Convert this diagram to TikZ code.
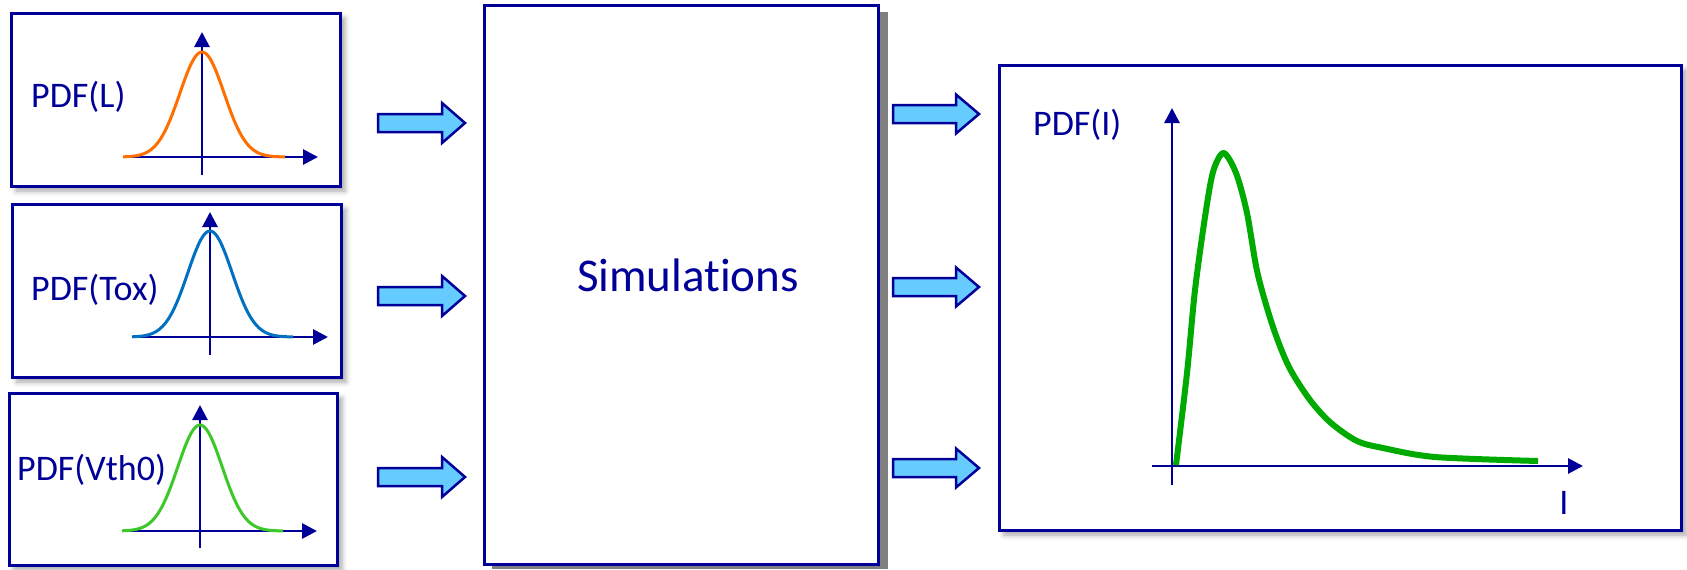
\documentclass[tikz,border=0pt]{standalone}
\usepackage{fontspec}
\setmainfont{Carlito}[RawFeature=-liga]
\usetikzlibrary{arrows.meta,shadows.blur}
\definecolor{dblue}{RGB}{0,0,153}
\definecolor{lblue}{RGB}{102,204,255}
\definecolor{corange}{RGB}{255,110,0}
\definecolor{cblue}{RGB}{0,112,192}
\definecolor{cgreen}{RGB}{60,200,40}
\definecolor{dgreen}{RGB}{0,170,0}
\definecolor{shgray}{RGB}{128,128,128}
\newcommand{\BArrow}[6]{% x0, xhead, xtip, y, body half, head half
  \draw[barrow] (#1,#4-#5) -- (#2,#4-#5) -- (#2,#4-#6) -- (#3,#4) -- (#2,#4+#6) -- (#2,#4+#5) -- (#1,#4+#5) -- cycle;}
\begin{document}
\begin{tikzpicture}[x=1pt,y=-1pt,
  box/.style={draw=dblue, line width=3pt, fill=white, rectangle, inner sep=0pt},
  softshadow/.style={blur shadow={shadow xshift=5pt, shadow yshift=-5pt, shadow blur radius=5pt, shadow opacity=35}},
  axis/.style={draw=dblue, line width=2.8pt, -{Triangle[width=15pt,length=15pt]}},
  tick/.style={draw=dblue, line width=2.8pt},
  lbl/.style={text=dblue, font=\fontsize{36}{40}\selectfont, inner sep=0pt},
  barrow/.style={draw=dblue, fill=lblue, line width=2.5pt, line join=miter},
  gauss/.style={line width=3pt}]
\useasboundingbox (0,0) rectangle (1687,570);
% input boxes
\node[box, softshadow, minimum width=329pt, minimum height=173pt] (b1) at (175.5,99.5) {};
\node[box, softshadow, minimum width=329pt, minimum height=173pt] (b2) at (176.5,290.5) {};
\node[box, softshadow, minimum width=328pt, minimum height=172pt] (b3) at (173,479) {};
% simulation box with solid shadow
\fill[shgray] (492,12) rectangle (888,569);
\node[box, minimum width=394pt, minimum height=559pt] (sim) at (681,284.5) {};
\node[text=dblue, font=\fontsize{47}{52}\selectfont, inner sep=0pt] (simtxt) at (688,275) {Simulations};
% output box
\node[box, softshadow, minimum width=682pt, minimum height=465pt] (out) at (1340,297.5) {};

% box 1 contents
\node[lbl, anchor=west] (l1) at (31,97) {PDF(L)};
\draw[tick] (202,175) -- (202,100);
\draw[axis] (202,100) -- (202,32);
\draw[axis] (123,157) -- (318,157);
\draw[gauss, corange] plot[domain=-79:83, samples=90] ({202+\x},{157-105*exp(-\x*\x/980)});
% box 2 contents
\node[lbl, anchor=west] (l2) at (31,290) {PDF(Tox)};
\draw[tick] (210,355) -- (210,300);
\draw[axis] (210,300) -- (210,212);
\draw[axis] (132,337) -- (328,337);
\draw[gauss, cblue] plot[domain=-78:83, samples=90] ({210+\x},{337-106*exp(-\x*\x/980)});
% box 3 contents
\node[lbl, anchor=west] (l3) at (17,470) {PDF(Vth0)};
\draw[tick] (200,548) -- (200,480);
\draw[axis] (200,480) -- (200,405);
\draw[axis] (122,531) -- (317,531);
\draw[gauss, cgreen] plot[domain=-78:83, samples=90] ({200+\x},{531-106*exp(-\x*\x/980)});

% output box contents
\node[lbl, anchor=west] (lo) at (1033,125) {PDF(I)};
\draw[tick] (1172,485) -- (1172,300);
\draw[axis] (1172,300) -- (1172,108);
\draw[axis] (1152,466) -- (1583,466);
\node[lbl] (li) at (1564,503) {I};
\draw[dgreen, line width=6pt, line join=round] plot[smooth, tension=0.5] coordinates
  {(1176,465) (1187,373) (1195,290) (1205,217) (1213,172) (1223.5,153) (1236,173) (1247,213) (1257.5,273) (1273,327) (1289,367) (1310,400) (1331,423) (1357,441) (1383,448) (1435,457) (1538,461)};

% block arrows
\BArrow{378}{442}{465}{123}{9}{20}
\BArrow{378}{442}{465}{296}{9}{20}
\BArrow{378}{442}{465}{477}{9}{20}
\BArrow{893}{956}{979}{114}{9}{19.5}
\BArrow{893}{956}{979}{287}{9}{19.5}
\BArrow{893}{956}{979}{468}{9}{19.5}
\end{tikzpicture}
\end{document}
